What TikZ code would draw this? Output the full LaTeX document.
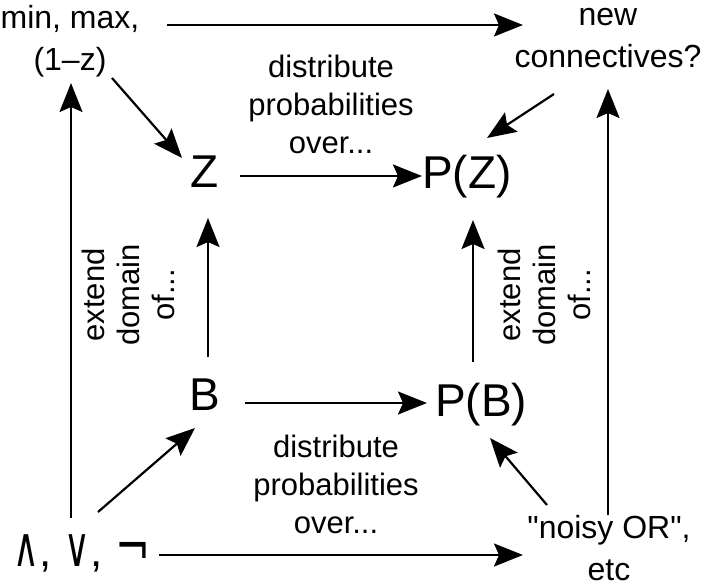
\documentclass[tikz,border=0pt]{standalone}
\usepackage{fontspec}
\setmainfont{Liberation Sans}[Ligatures=TeXOff]
\newfontfamily\symfont{DejaVu Sans}
\usetikzlibrary{arrows.meta}
\tikzset{
  x=1pt, y=-1pt,
  lbl/.style={inner sep=0pt, align=center, font=\fontsize{31}{38}\selectfont},
  corner/.style={inner sep=0pt, align=center, font=\fontsize{32}{42}\selectfont},
  rot/.style={inner sep=0pt, align=center, rotate=90, font=\fontsize{31}{35}\selectfont},
  big/.style={inner sep=0pt, font=\fontsize{46}{50}\selectfont},
  arr/.style={line width=2.2pt, -{Stealth[length=29pt,width=23pt,inset=5pt]}},
}
\begin{document}
\begin{tikzpicture}
\useasboundingbox (0,0) rectangle (707,588);
\node[corner] (minmax) at (70,41) {min, max,\\(1–z)};
\node[corner] (newconn) at (608,38) {new\\connectives?};
\node[big] (Z) at (205,172) {Z};
\node[big] (PZ) at (467,177) {P(Z)};
\node[big] (B) at (205,395) {B};
\node[big] (PB) at (481,405) {P(B)};
\node[inner sep=0pt, font=\fontsize{44}{50}\selectfont] (sym) at (82,553)
  {\scalebox{0.8}[1.25]{\symfont ∧},\hspace{0.3em}\scalebox{0.8}[1.25]{\symfont ∨},\hspace{0.3em}\scalebox{0.95}[1.3]{\symfont ¬}};
\node[corner] (noisy) at (609,548) {"noisy OR",\\etc};
\node[lbl] (topdist) at (331,104) {distribute\\probabilities\\over...};
\node[lbl] (botdist) at (336,484) {distribute\\probabilities\\over...};
\node[rot] (lext) at (128,295) {extend\\domain\\of...};
\node[rot] (rext) at (544,295) {extend\\domain\\of...};

\draw[arr] ([shift={(97,-16)}]minmax.center) -- ([shift={(-85,-13)}]newconn.center);
\draw[arr] ([shift={(42,37)}]minmax.center) -- ([shift={(-23,-14)}]Z.center);
\draw[arr] ([shift={(-54,56)}]newconn.center) -- ([shift={(20,-39)}]PZ.center);
\draw[arr] ([shift={(35,4)}]Z.center) -- ([shift={(-45,-1)}]PZ.center);
\draw[arr] ([shift={(3,-38)}]B.center) -- ([shift={(3,46)}]Z.center);
\draw[arr] ([shift={(-8,-43)}]PB.center) -- ([shift={(6,43)}]PZ.center);
\draw[arr] ([shift={(40,8)}]B.center) -- ([shift={(-54,-2)}]PB.center);
\draw[arr] ([shift={(-11,-35)}]sym.center) -- ([shift={(1,42)}]minmax.center);
\draw[arr] ([shift={(16,-41)}]sym.center) -- ([shift={(-10,33)}]B.center);
\draw[arr] ([shift={(77,2)}]sym.center) -- ([shift={(-86,7)}]noisy.center);
\draw[arr] ([shift={(-62,-43)}]noisy.center) -- ([shift={(9,33)}]PB.center);
\draw[arr] ([shift={(-1,-33)}]noisy.center) -- ([shift={(0,51)}]newconn.center);
\end{tikzpicture}
\end{document}
